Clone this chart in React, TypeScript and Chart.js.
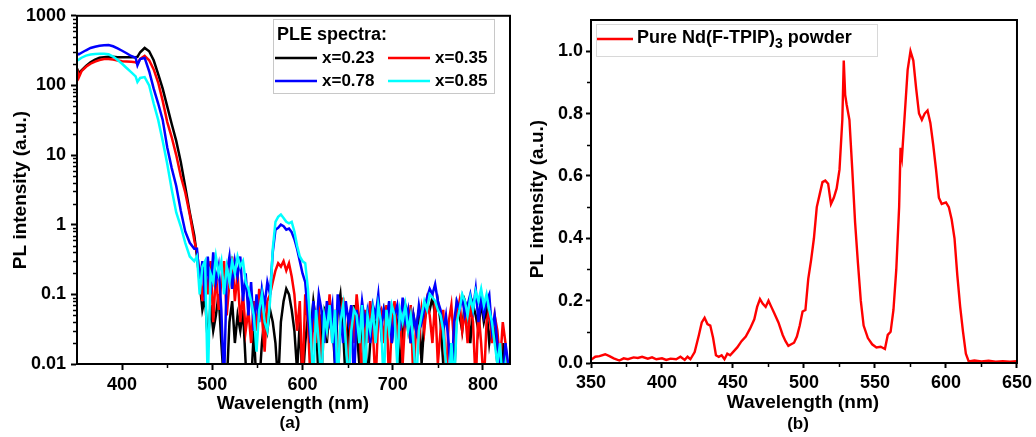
import React, { useEffect, useRef } from "react";
import { Chart, registerables } from "chart.js";

Chart.register(...registerables);

const FONT = "'Liberation Sans', Arial, Helvetica, sans-serif";

// ---------- Panel (a): PLE spectra (log scale) ----------
const wavelengthsA = [
  350, 352, 355, 360, 365, 370, 375, 380, 385, 390, 395, 400, 405, 410, 415, 417, 420, 425, 430, 435, 440, 445, 450, 455, 460, 465, 470, 475, 480,
  483, 486, 489, 492, 495, 498, 501, 504, 507, 510,
  513, 516, 519, 522, 525, 528, 531, 534, 537, 540,
  543, 546, 549, 552, 555, 558, 561, 564, 567, 570,
  573, 576, 579, 582, 585, 588, 591, 594, 597, 600,
  603, 606, 609, 612, 615, 618, 621, 624, 627, 630,
  633, 636, 639, 642, 645, 648, 651, 654, 657, 660,
  663, 666, 669, 672, 675, 678, 681, 684, 687, 690,
  693, 696, 699, 702, 705, 708, 711, 714, 717, 720,
  723, 726, 729, 732, 735, 738, 741, 744, 747, 750,
  753, 756, 759, 762, 765, 768, 771, 774, 777, 780,
  783, 786, 789, 792, 795, 798, 801, 804, 807, 810,
  813, 816, 819, 822, 825, 828,
];

const pleX023 = [
  175, 150, 165, 190, 215, 235, 250, 255, 258, 258, 255, 255, 255, 255, 255, 258, 300, 345, 310, 230, 145, 90, 50, 28, 16, 8, 3.5, 1.5, 0.7,
  0.35, 0.15, 0.06, 0.09, 0.02, 0.07, 0.03, 0.05, 0.1, 0.02,
  0.005, 0.005, 0.04, 0.08, 0.02, 0.05, 0.03, 0.06, 0.01, 0.005,
  0.005, 0.03, 0.005, 0.005, 0.02, 0.05, 0.03, 0.06, 0.04, 0.02,
  0.005, 0.04, 0.08, 0.12, 0.1, 0.06, 0.03, 0.008, 0.04, 0.005,
  0.02, 0.05, 0.03, 0.08, 0.04, 0.005, 0.05, 0.06, 0.02, 0.08,
  0.04, 0.01, 0.06, 0.1, 0.03, 0.005, 0.05, 0.02, 0.07, 0.03,
  0.01, 0.06, 0.04, 0.005, 0.02, 0.05, 0.03, 0.07, 0.04, 0.06,
  0.03, 0.05, 0.02, 0.06, 0.04, 0.008, 0.03, 0.07, 0.05, 0.02,
  0.05, 0.03, 0.06, 0.01, 0.04, 0.07, 0.06, 0.09, 0.05, 0.08,
  0.04, 0.01, 0.005, 0.005, 0.02, 0.005, 0.07, 0.05, 0.03, 0.08,
  0.06, 0.02, 0.07, 0.05, 0.03, 0.08, 0.04, 0.06, 0.02, 0.04,
  0.03, 0.01, 0.005, 0.02, 0.005, 0.005,
];

const pleX035 = [
  170, 130, 160, 185, 205, 220, 232, 240, 240, 235, 228, 222, 220, 218, 215, 205, 240, 265, 230, 170, 110, 60, 30, 18, 10, 5, 2.9, 1.4, 0.6,
  0.4, 0.2, 0.08, 0.25, 0.1, 0.3, 0.04, 0.2, 0.06, 0.15,
  0.3, 0.05, 0.15, 0.35, 0.08, 0.2, 0.04, 0.1, 0.03, 0.06,
  0.02, 0.08, 0.03, 0.12, 0.05, 0.015, 0.08, 0.1, 0.15, 0.22,
  0.28, 0.25, 0.3, 0.22, 0.28, 0.18, 0.1, 0.03, 0.08, 0.005,
  0.1, 0.04, 0.005, 0.06, 0.02, 0.08, 0.005, 0.05, 0.03, 0.1,
  0.02, 0.06, 0.005, 0.04, 0.09, 0.03, 0.005, 0.07, 0.02, 0.1,
  0.04, 0.005, 0.06, 0.02, 0.08, 0.03, 0.005, 0.05, 0.06, 0.02,
  0.07, 0.005, 0.04, 0.08, 0.02, 0.06, 0.01, 0.05, 0.03, 0.07,
  0.005, 0.04, 0.02, 0.06, 0.03, 0.08, 0.05, 0.02, 0.08, 0.01,
  0.03, 0.06, 0.005, 0.04, 0.07, 0.02, 0.05, 0.08, 0.03, 0.06,
  0.02, 0.07, 0.04, 0.005, 0.06, 0.02, 0.005, 0.04, 0.06, 0.02,
  0.05, 0.03, 0.01, 0.04, 0.02, 0.005,
];

const pleX078 = [
  290, 280, 295, 320, 345, 360, 372, 378, 380, 365, 340, 315, 290, 265, 250, 195, 240, 248, 160, 90, 55, 32, 13, 6.5, 3.6, 1.6, 0.8, 0.55, 0.45,
  0.45, 0.15, 0.3, 0.08, 0.35, 0.1, 0.4, 0.15, 0.25, 0.06,
  0.005, 0.2, 0.35, 0.12, 0.3, 0.18, 0.35, 0.08, 0.2, 0.05,
  0.15, 0.03, 0.1, 0.04, 0.12, 0.07, 0.15, 0.1, 0.4, 0.85,
  0.9, 1.0, 0.95, 0.85, 0.88, 0.78, 0.62, 0.45, 0.3, 0.2,
  0.15, 0.05, 0.02, 0.08, 0.03, 0.1, 0.06, 0.02, 0.08, 0.04,
  0.07, 0.01, 0.1, 0.05, 0.02, 0.08, 0.04, 0.07, 0.005, 0.06,
  0.03, 0.08, 0.04, 0.06, 0.02, 0.07, 0.05, 0.1, 0.03, 0.06,
  0.04, 0.08, 0.02, 0.05, 0.07, 0.03, 0.09, 0.04, 0.06, 0.02,
  0.05, 0.03, 0.07, 0.04, 0.06, 0.09, 0.12, 0.1, 0.14, 0.08,
  0.06, 0.03, 0.05, 0.02, 0.005, 0.04, 0.08, 0.06, 0.09, 0.05,
  0.07, 0.1, 0.06, 0.12, 0.04, 0.09, 0.05, 0.08, 0.1, 0.03,
  0.05, 0.02, 0.01, 0.005, 0.02, 0.01,
];

const pleX085 = [
  228, 235, 250, 268, 278, 282, 285, 285, 280, 260, 232, 205, 178, 155, 135, 112, 128, 132, 100, 55, 32, 16, 7.5, 3.2, 1.5, 0.95, 0.55, 0.35, 0.3,
  0.35, 0.1, 0.25, 0.3, 0.005, 0.2, 0.15, 0.35, 0.2, 0.3,
  0.1, 0.25, 0.15, 0.3, 0.2, 0.35, 0.25, 0.3, 0.15, 0.12,
  0.08, 0.05, 0.015, 0.06, 0.1, 0.04, 0.03, 0.08, 0.45, 1.1,
  1.3, 1.4, 1.25, 1.1, 1.05, 1.1, 0.8, 0.5, 0.35, 0.3,
  0.28, 0.12, 0.03, 0.005, 0.06, 0.02, 0.005, 0.05, 0.03, 0.07,
  0.02, 0.06, 0.005, 0.04, 0.07, 0.02, 0.005, 0.03, 0.06, 0.05,
  0.02, 0.07, 0.005, 0.05, 0.03, 0.06, 0.02, 0.07, 0.04, 0.005,
  0.06, 0.03, 0.07, 0.05, 0.01, 0.06, 0.04, 0.07, 0.03, 0.05,
  0.02, 0.005, 0.03, 0.05, 0.08, 0.06, 0.1, 0.09, 0.08, 0.06,
  0.05, 0.03, 0.01, 0.005, 0.02, 0.005, 0.04, 0.06, 0.1, 0.08,
  0.05, 0.09, 0.06, 0.11, 0.08, 0.12, 0.07, 0.1, 0.06, 0.04,
  0.02, 0.01, 0.02, 0.005, 0.01, 0.005,
];

const seriesA = [pleX023, pleX035, pleX078, pleX085];
const seriesLabelsA = ["x=0.23", "x=0.35", "x=0.78", "x=0.85"];
const seriesColorsA = ["#000000", "#ff0000", "#0000ff", "#00ffff"];
const legendTitleA = "PLE spectra:";
const xTicksA = [400, 500, 600, 700, 800];
const xMinorA = [450, 550, 650, 750];
const yTicksA = [0.01, 0.1, 1, 10, 100, 1000];

// ---------- Panel (b): pure Nd(F-TPIP)3 powder ----------
const wavelengthsB = [
  350, 353, 356, 360, 363, 366, 370, 373, 376, 380, 383, 386, 390, 393, 396, 400, 403, 406, 410, 413, 416, 418, 420,
  423, 426, 428, 430, 432, 434, 436, 438, 440, 442, 444, 446, 448, 450, 453, 456, 459, 462, 465, 467, 469, 471, 473,
  475, 477, 479, 482, 485, 487, 489, 491, 493, 495, 497, 499, 501, 503, 505, 507, 509, 511, 513, 515, 517, 519, 521,
  523, 525, 526, 527, 528, 529, 530, 532, 534, 536, 538, 540, 542, 545, 548, 551, 554, 557, 559, 561, 563, 565, 567,
  568, 569, 571, 573, 575, 577, 579, 581, 583, 585, 587, 589, 591, 593, 595, 597, 600, 602, 604, 606, 608, 610, 612,
  614, 616, 620, 625, 630, 635, 640, 645, 650,
];
const pureNd = [
  0.01, 0.02, 0.022, 0.028, 0.022, 0.015, 0.008, 0.015, 0.012, 0.018, 0.016, 0.02, 0.014, 0.018, 0.012, 0.015, 0.01, 0.014, 0.012, 0.02, 0.01, 0.02, 0.012,
  0.035, 0.09, 0.13, 0.145, 0.125, 0.12, 0.08, 0.025, 0.02, 0.025, 0.012, 0.03, 0.025, 0.035, 0.05, 0.07, 0.085, 0.11, 0.14, 0.18, 0.205, 0.19, 0.18,
  0.2, 0.18, 0.16, 0.13, 0.09, 0.07, 0.055, 0.06, 0.065, 0.085, 0.12, 0.165, 0.17, 0.27, 0.33, 0.4, 0.5, 0.54, 0.58, 0.585, 0.575, 0.51, 0.53,
  0.56, 0.62, 0.7, 0.78, 0.97, 0.86, 0.83, 0.78, 0.62, 0.45, 0.32, 0.2, 0.12, 0.08, 0.06, 0.05, 0.052, 0.045, 0.09, 0.1, 0.17, 0.3, 0.5,
  0.69, 0.66, 0.8, 0.94, 1.0, 0.97, 0.88, 0.8, 0.78, 0.8, 0.81, 0.77, 0.7, 0.62, 0.53, 0.51, 0.515, 0.5, 0.46, 0.4, 0.28, 0.18, 0.1,
  0.03, 0.005, 0.008, 0.005, 0.007, 0.004, 0.006, 0.004, 0.006,
];
const labelB = "Pure Nd(F-TPIP)";
const labelBSub = "3";
const labelBTail = " powder";
const colorB = "#ff0000";
const xTicksB = [350, 400, 450, 500, 550, 600, 650];
const xMinorB = [375, 425, 475, 525, 575, 625];
const yTicksB = [0, 0.2, 0.4, 0.6, 0.8, 1.0];
const yMinorB = [0.1, 0.3, 0.5, 0.7, 0.9];

const xTitle = "Wavelength (nm)";
const yTitle = "PL intensity (a.u.)";

function decor(opts: any) {
  return {
    id: "decor",
    afterDraw(chart: any) {
      const { ctx, chartArea: a } = chart;
      const xs = chart.scales.x;
      const ys = chart.scales.y;
      ctx.save();
      ctx.strokeStyle = "#000";
      ctx.lineWidth = 2;
      ctx.strokeRect(a.left, a.top, a.right - a.left, a.bottom - a.top);
      ctx.lineWidth = 1.5;
      ctx.beginPath();
      for (const v of opts.xMinor) {
        const p = Math.round(xs.getPixelForValue(v)) + 0.5;
        ctx.moveTo(p, a.bottom);
        ctx.lineTo(p, a.bottom + 4);
      }
      for (const v of opts.yMinor) {
        const p = Math.round(ys.getPixelForValue(v)) + 0.5;
        ctx.moveTo(a.left, p);
        ctx.lineTo(a.left - 4, p);
      }
      ctx.stroke();

      opts.legend(ctx);

      ctx.fillStyle = "#000";
      ctx.textAlign = "center";
      ctx.textBaseline = "middle";
      ctx.font = `bold 19px ${FONT}`;
      ctx.fillText(xTitle, opts.xTitle[0], opts.xTitle[1]);
      ctx.font = `bold 17px ${FONT}`;
      ctx.fillText(opts.tag, opts.tagPos[0], opts.tagPos[1]);
      ctx.save();
      ctx.translate(opts.yTitle[0], opts.yTitle[1]);
      ctx.rotate(-Math.PI / 2);
      ctx.font = `bold 19px ${FONT}`;
      ctx.fillText(yTitle, 0, 0);
      ctx.restore();
      ctx.restore();
    },
  };
}

const tickFont = { family: FONT, size: 18, weight: "bold" as const };

function axisCommon(tickLength: number, padding: number) {
  return {
    ticks: { font: tickFont, color: "#000", padding, maxRotation: 0, autoSkip: false },
    grid: { display: true, drawOnChartArea: false, drawTicks: true, tickLength, tickWidth: 2, tickColor: "#000" },
    border: { display: true, color: "#000", width: 2 },
  };
}

function PanelA() {
  const ref = useRef<HTMLCanvasElement>(null);
  useEffect(() => {
    const yMinor: number[] = [];
    for (const d of yTicksA.slice(0, -1)) for (let m = 2; m <= 9; m++) yMinor.push(d * m);
    const legend = (ctx: CanvasRenderingContext2D) => {
      ctx.fillStyle = "#fff";
      ctx.fillRect(273.5, 19.5, 221, 74);
      ctx.strokeStyle = "#c8c8c8";
      ctx.lineWidth = 1;
      ctx.strokeRect(273.5, 19.5, 221, 74);
      ctx.fillStyle = "#000";
      ctx.textAlign = "left";
      ctx.textBaseline = "middle";
      ctx.font = `bold 18px ${FONT}`;
      ctx.fillText(legendTitleA, 277, 35);
      const pos = [
        [275, 58],
        [388, 58],
        [275, 81],
        [388, 81],
      ];
      ctx.font = `bold 17px ${FONT}`;
      seriesLabelsA.forEach((lab, i) => {
        const [x, y] = pos[i];
        ctx.strokeStyle = seriesColorsA[i];
        ctx.lineWidth = 2.5;
        ctx.beginPath();
        ctx.moveTo(x, y);
        ctx.lineTo(x + 42, y);
        ctx.stroke();
        ctx.fillStyle = "#000";
        ctx.fillText(lab, x + 47, y);
      });
    };
    const chart = new Chart(ref.current!, {
      type: "line",
      data: {
        datasets: seriesA.map((s, i) => ({
          label: seriesLabelsA[i],
          data: wavelengthsA.map((x, j) => ({ x, y: s[j] })),
          borderColor: seriesColorsA[i],
          borderWidth: 2.5,
          pointRadius: 0,
          tension: 0,
          fill: false,
          order: 3 - i,
        })),
      },
      options: {
        responsive: false,
        animation: false,
        layout: { padding: { left: 0, right: 10, top: 15, bottom: 0 } },
        plugins: { legend: { display: false }, tooltip: { enabled: false } },
        scales: {
          x: {
            type: "linear",
            min: 350,
            max: 830,
            ...axisCommon(6, 4),
            afterFit: (s: any) => {
              s.height = 73;
            },
            afterBuildTicks: (s: any) => {
              s.ticks = xTicksA.map((v) => ({ value: v }));
            },
          },
          y: {
            type: "logarithmic",
            min: 0.01,
            max: 1000,
            ...axisCommon(6, 5),
            afterFit: (s: any) => {
              s.width = 77;
            },
            afterBuildTicks: (s: any) => {
              s.ticks = yTicksA.map((v) => ({ value: v }));
            },
          },
        },
      } as any,
      plugins: [
        decor({
          xMinor: xMinorA,
          yMinor,
          legend,
          xTitle: [293, 404],
          tag: "(a)",
          tagPos: [290, 423],
          yTitle: [21, 190],
        }),
      ],
    });
    (chart.options.scales as any).y.ticks.callback = (v: number) => String(v);
    chart.update();
    return () => chart.destroy();
  }, []);
  return <canvas ref={ref} width={520} height={437} style={{ position: "absolute", left: 0, top: 0 }} />;
}

function PanelB() {
  const ref = useRef<HTMLCanvasElement>(null);
  useEffect(() => {
    const legend = (ctx: CanvasRenderingContext2D) => {
      ctx.fillStyle = "#fff";
      ctx.fillRect(76.5, 24.5, 281, 32);
      ctx.strokeStyle = "#d8d8d8";
      ctx.lineWidth = 1;
      ctx.strokeRect(76.5, 24.5, 281, 32);
      ctx.strokeStyle = colorB;
      ctx.lineWidth = 2.5;
      ctx.beginPath();
      ctx.moveTo(77, 39);
      ctx.lineTo(113, 39);
      ctx.stroke();
      ctx.fillStyle = "#000";
      ctx.textAlign = "left";
      ctx.textBaseline = "middle";
      ctx.font = `bold 18px ${FONT}`;
      let x = 117;
      ctx.fillText(labelB, x, 38);
      x += ctx.measureText(labelB).width;
      ctx.font = `bold 14px ${FONT}`;
      ctx.fillText(labelBSub, x, 44);
      x += ctx.measureText(labelBSub).width;
      ctx.font = `bold 18px ${FONT}`;
      ctx.fillText(labelBTail, x, 38);
    };
    const chart = new Chart(ref.current!, {
      type: "line",
      data: {
        datasets: [
          {
            label: labelB + labelBSub + labelBTail,
            data: wavelengthsB.map((x, j) => ({ x, y: pureNd[j] })),
            borderColor: colorB,
            borderWidth: 2.4,
            pointRadius: 0,
            tension: 0,
            fill: false,
          },
        ],
      },
      options: {
        responsive: false,
        animation: false,
        layout: { padding: { left: 0, right: 19, top: 20, bottom: 0 } },
        plugins: { legend: { display: false }, tooltip: { enabled: false } },
        scales: {
          x: {
            type: "linear",
            min: 350,
            max: 650,
            ...axisCommon(5, 4),
            afterFit: (s: any) => {
              s.height = 74;
            },
            afterBuildTicks: (s: any) => {
              s.ticks = xTicksB.map((v) => ({ value: v }));
            },
          },
          y: {
            type: "linear",
            min: 0,
            max: 1.1,
            ...axisCommon(5, 3),
            afterFit: (s: any) => {
              s.width = 71;
            },
            afterBuildTicks: (s: any) => {
              s.ticks = yTicksB.map((v) => ({ value: v }));
            },
          },
        },
      } as any,
      plugins: [
        decor({
          xMinor: xMinorB,
          yMinor: yMinorB,
          legend,
          xTitle: [283, 403],
          tag: "(b)",
          tagPos: [278, 424],
          yTitle: [18, 199],
        }),
      ],
    });
    (chart.options.scales as any).y.ticks.callback = (v: number) => Number(v).toFixed(1);
    chart.update();
    return () => chart.destroy();
  }, []);
  return <canvas ref={ref} width={516} height={437} style={{ position: "absolute", left: 520, top: 0 }} />;
}

export default function App() {
  return (
    <div style={{ position: "absolute", left: 0, top: 0, width: 1036, height: 437, background: "#fff" }}>
      <PanelA />
      <PanelB />
    </div>
  );
}
